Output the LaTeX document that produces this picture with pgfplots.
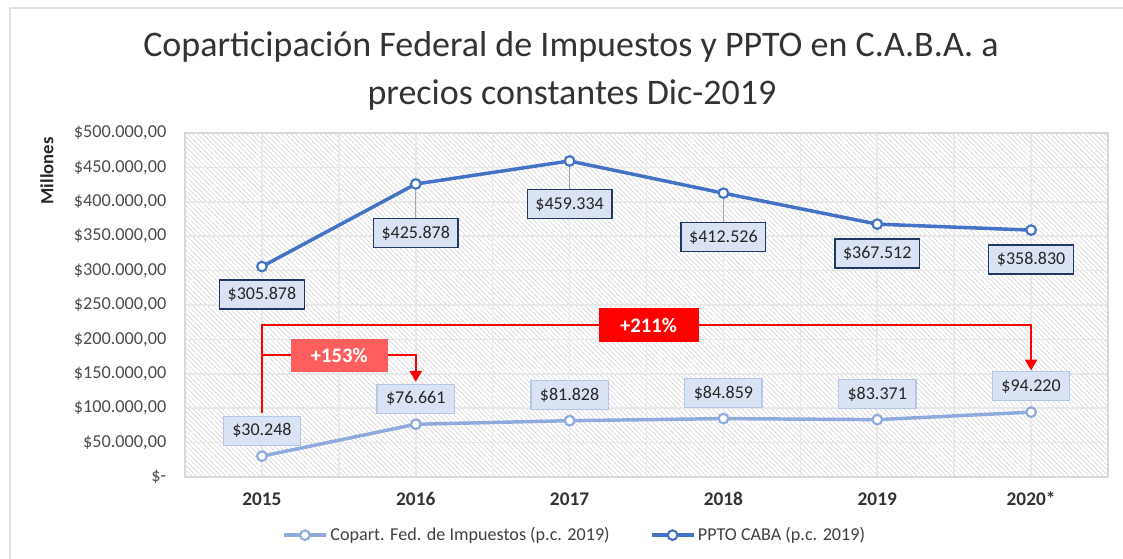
\documentclass[border=0pt]{standalone}
\usepackage{pgfplots}
\pgfplotsset{compat=1.18}
\usepackage{fontspec}
\setmainfont{Carlito}
\usetikzlibrary{patterns.meta, arrows.meta}

\definecolor{ppto}{RGB}{68,114,196}
\definecolor{copart}{RGB}{143,170,220}
\definecolor{labfill}{RGB}{218,227,243}
\definecolor{pptoborder}{RGB}{31,56,100}
\definecolor{copartborder}{RGB}{180,199,231}
\definecolor{salmon}{RGB}{255,94,94}

\begin{document}
\begin{tikzpicture}
  % lienzo 1123x559 px (1 px = 0.75 pt)
  \path[use as bounding box] (0,0) rectangle (842.25pt,419.25pt);
  \draw[black!12, line width=1.5pt] (7.5pt,-5pt) -- (7.5pt,413.25pt) -- (850pt,413.25pt);

  % titulo
  \node[text=black!80, font=\fontsize{27}{31}\selectfont] at (428.25pt,384pt)
    {Coparticipación Federal de Impuestos y PPTO en C.A.B.A. a};
  \node[text=black!80, font=\fontsize{27}{31}\selectfont] at (429pt,348pt)
    {precios constantes Dic-2019};

  % eje y
  \node[rotate=90, font=\bfseries\fontsize{14}{16}\selectfont, text=black!85] at (35.25pt,291pt) {Millones};

  \begin{axis}[
    at={(138.75pt,61.5pt)}, anchor=south west,
    scale only axis, width=692.25pt, height=258pt,
    xmin=-0.5, xmax=5.5, ymin=0, ymax=500000,
    xtick={0,...,5},
    xticklabels={2015,2016,2017,2018,2019,2020*},
    minor xtick={0.5,1.5,2.5,3.5,4.5},
    ytick={0,50000,...,500000},
    yticklabels={{\$-},{\$50.000,00},{\$100.000,00},{\$150.000,00},{\$200.000,00},{\$250.000,00},{\$300.000,00},{\$350.000,00},{\$400.000,00},{\$450.000,00},{\$500.000,00}},
    scaled y ticks=false,
    major tick length=0pt, minor tick length=0pt,
    xmajorgrids, xminorgrids, ymajorgrids,
    grid style={black!9, line width=1.2pt},
    minor grid style={black!9, line width=1.2pt},
    axis line style={black!15, line width=1pt},
    axis background/.style={pattern={Lines[angle=-45,distance=2.6pt,line width=0.5pt]}, pattern color=black!16},
    xticklabel style={anchor=center, yshift=-16.5pt, font=\bfseries\fontsize{14.5}{16}\selectfont, text=black!80},
    yticklabel style={anchor=east, xshift=-10.5pt, font=\fontsize{13.7}{15}\selectfont, text=black!70},
    legend style={at={(0.4225,-0.169)}, anchor=center, draw=none, fill=none,
      legend columns=2, font=\fontsize{13.6}{15}\selectfont, text=black!75,
      /tikz/every even column/.append style={column sep=28pt}},
    legend image code/.code={\draw[mark repeat=2,mark phase=2,#1] plot coordinates {(0pt,0pt) (15.75pt,0pt) (31.5pt,0pt)};},
  ]

  % lineas guia
  \draw[black!35, line width=1pt] (axis cs:1,425878) -- ++(0pt,-26pt);
  \draw[black!35, line width=1pt] (axis cs:2,459334) -- ++(0pt,-22pt);
  \draw[black!35, line width=1pt] (axis cs:3,412526) -- ++(0pt,-22pt);

  \addplot[copart, line width=2.6pt, mark=*, mark size=3.6pt,
    mark options={fill=white, draw=copart, line width=1.6pt}]
    coordinates {(0,30248) (1,76661) (2,81828) (3,84859) (4,83371) (5,94220)};
  \addlegendentry{Copart. Fed. de Impuestos (p.c. 2019)}

  \addplot[ppto, line width=2.6pt, mark=*, mark size=3.6pt,
    mark options={fill=white, draw=ppto, line width=1.6pt}]
    coordinates {(0,305878) (1,425878) (2,459334) (3,412526) (4,367512) (5,358830)};
  \addlegendentry{PPTO CABA (p.c. 2019)}

  % flechas de variacion
  \draw[red, line width=1.5pt, -{Triangle[width=9pt,length=8pt]}]
    (axis cs:0,93000) -- (axis cs:0,220900) -- (axis cs:5,220900) -- (axis cs:5,155000);
  \draw[red, line width=1.5pt, -{Triangle[width=9pt,length=8pt]}]
    (axis cs:0,177300) -- (axis cs:1,177300) -- (axis cs:1,138500);
  \node[fill=red, text=white, font=\bfseries\fontsize{15.5}{18}\selectfont,
    minimum width=75pt, minimum height=26pt] at (axis cs:2.513,220900) {+211\%};
  \node[fill=salmon, text=white, font=\bfseries\fontsize{15.5}{18}\selectfont,
    minimum width=72.75pt, minimum height=24.75pt] at (axis cs:0.503,177300) {+153\%};

  % etiquetas
  \tikzset{
    pl/.style={draw=pptoborder, fill=labfill, line width=0.9pt, minimum width=63.5pt,
      minimum height=21.75pt, inner sep=2pt, text=black!85, font=\fontsize{13.5}{16}\selectfont},
    cl/.style={pl, draw=copartborder, minimum width=58pt},
  }
  \node[pl, yshift=-21pt] at (axis cs:0,305878) {\$305.878};
  \node[pl, yshift=-37pt] at (axis cs:1,425878) {\$425.878};
  \node[pl, yshift=-32.5pt] at (axis cs:2,459334) {\$459.334};
  \node[pl, yshift=-33pt] at (axis cs:3,412526) {\$412.526};
  \node[pl, yshift=-22pt] at (axis cs:4,367512) {\$367.512};
  \node[pl, yshift=-22pt] at (axis cs:5,358830) {\$358.830};

  \node[cl, yshift=19pt] at (axis cs:0,30248) {\$30.248};
  \node[cl, yshift=19pt] at (axis cs:1,76661) {\$76.661};
  \node[cl, yshift=19pt] at (axis cs:2,81828) {\$81.828};
  \node[cl, yshift=19pt] at (axis cs:3,84859) {\$84.859};
  \node[cl, yshift=19pt] at (axis cs:4,83371) {\$83.371};
  \node[cl, yshift=19.5pt] at (axis cs:5,94220) {\$94.220};

  \end{axis}
\end{tikzpicture}
\end{document}
